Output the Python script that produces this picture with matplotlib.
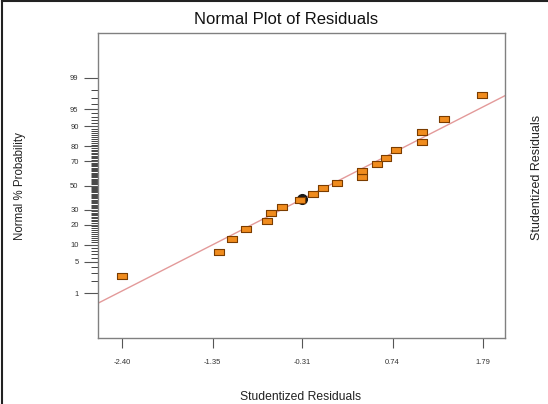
import numpy as np
import matplotlib
matplotlib.use("Agg")
import matplotlib.pyplot as plt
from matplotlib.lines import Line2D
from statistics import NormalDist

plt.rcParams['font.family'] = ['Liberation Sans', 'DejaVu Sans']

# Data
residuals = [-2.40, -1.27, -1.13, -0.96, -0.72, -0.67, -0.54, -0.33, -0.18, -0.07,
             0.10, 0.38, 0.39, 0.56, 0.66, 0.78, 1.08, 1.08, 1.34, 1.78]
probability = [2.5, 7.5, 12.5, 17.5, 22.5, 27.5, 32.5, 37.5, 42.5, 47.5,
               52.5, 57.5, 62.5, 67.5, 72.5, 77.5, 82.5, 87.5, 92.5, 97.5]
highlight_index = 7
line_mean = 0.0
line_sd = 1.055
x_ticks = [-2.40, -1.35, -0.31, 0.74, 1.79]
x_tick_labels = ["-2.40", "-1.35", "-0.31", "0.74", "1.79"]
y_ticks = [1, 5, 10, 20, 30, 50, 70, 80, 90, 95, 99]
y_minor = [p for p in range(2, 99) if p not in y_ticks]
x_limits = (-2.68, 2.045)
y_limits = (0.05, 99.95)

nd = NormalDist()

def fwd(p):
    p = np.asarray(p, dtype=float)
    pc = np.clip(p / 100.0, 1e-9, 1 - 1e-9)
    return np.vectorize(nd.inv_cdf)(pc)

def inv(z):
    z = np.asarray(z, dtype=float)
    return np.vectorize(nd.cdf)(z) * 100.0

fig = plt.figure(figsize=(5.48, 4.04), dpi=100)
ax = fig.add_axes([98/548, 1-338/404, (505-98)/548, (338-33)/404])
ax.set_yscale('function', functions=(fwd, inv))

# fitted line
lx = np.array(x_limits)
ly = inv((lx - line_mean) / line_sd)
ax.plot(lx, ly, color='#e39a9a', lw=1.0, zorder=2)

# highlighted point marker (dark circle)
ax.plot([residuals[highlight_index] + 0.02], [probability[highlight_index] + 0.8],
        marker='o', ms=7, color='#1a1a1a', ls='none', zorder=3)

rect = [(-1, -0.62), (1, -0.62), (1, 0.62), (-1, 0.62), (-1, -0.62)]
ax.plot(residuals, probability, ls='none', marker=rect, ms=7.6,
        mfc='#f08c1e', mec='#7a3c00', mew=0.8, zorder=4)

ax.set_xlim(*x_limits)
ax.set_ylim(*y_limits)
ax.set_xticks(x_ticks)
ax.set_xticklabels(x_tick_labels)
ax.set_yticks(y_ticks)
ax.set_yticklabels([str(t) for t in y_ticks])
ax.set_yticks(y_minor, minor=True)
ax.set_xticks([], minor=True)
ax.tick_params(axis='y', which='major', length=10, width=0.8, color='#555555',
               labelsize=5.5, labelcolor='#333333', pad=4)
ax.tick_params(axis='y', which='minor', length=5, width=0.7, color='#444444')
ax.tick_params(axis='x', which='major', length=7, width=0.8, color='#555555',
               labelsize=5.5, labelcolor='#333333', pad=8)
for s in ax.spines.values():
    s.set_color('#808080')
    s.set_linewidth(1.0)

fig.text(286/548, 1-20/404, "Normal Plot of Residuals", ha='center', va='center',
         fontsize=12, color='#111111')
fig.text(301/548, 1-397/404, "Studentized Residuals", ha='center', va='center',
         fontsize=8.7, color='#222222')
fig.text(20/548, 1-186/404, "Normal % Probability", ha='center', va='center',
         rotation=90, fontsize=8.3, color='#222222')
fig.text(537/548, 1-177/404, "Studentized Residuals", ha='center', va='center',
         rotation=90, fontsize=9.0, color='#222222')

# outer frame (top and left)
fig.add_artist(Line2D([0.003, 0.003], [0, 0.997], transform=fig.transFigure,
                      color='#222222', lw=1.5))
fig.add_artist(Line2D([0.003, 1], [0.997, 0.997], transform=fig.transFigure,
                      color='#222222', lw=1.5))

fig.savefig("out.png", dpi=100)
